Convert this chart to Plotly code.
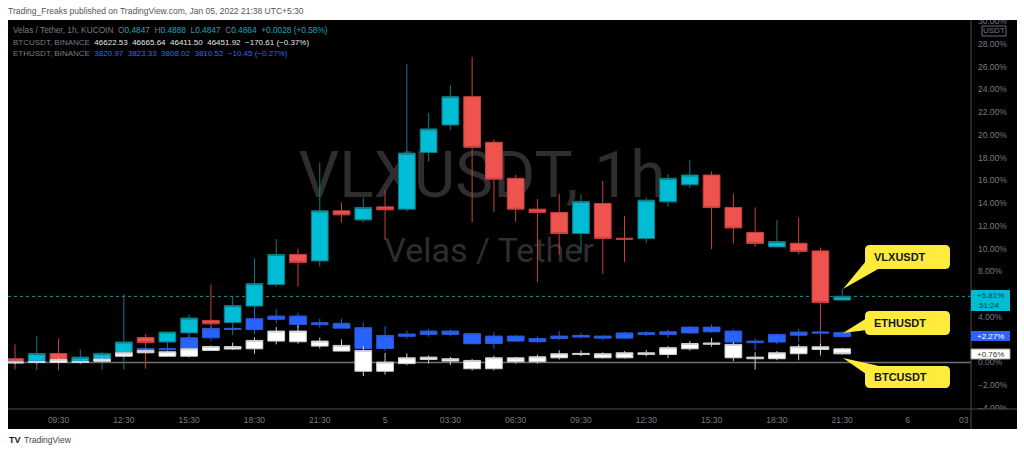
import plotly.graph_objects as go
import pandas as pd

# ---------------- data (percent change vs. first bar) ----------------
times = pd.date_range("2022-01-04 07:30", "2022-01-05 21:30", freq="h")

vlx_open = [0.33, 0.00, 0.79, 0.03, 0.12, 0.60, 2.20, 1.80, 2.60, 3.70, 3.50, 4.96, 6.85, 9.50, 8.93, 13.33, 12.54, 13.68, 13.48, 18.47,
            20.88, 23.37, 19.36, 16.19, 13.48, 13.19, 11.34, 13.98, 10.92, 10.90, 14.12, 15.62, 16.48, 13.63, 11.43, 10.16, 10.48, 9.81, 5.49]
vlx_high = [1.59, 2.30, 2.09, 1.15, 0.95, 6.00, 2.50, 2.70, 4.20, 6.85, 5.85, 9.16, 10.85, 10.00, 17.55, 14.07, 14.51, 15.15, 26.26, 21.94,
            24.40, 26.85, 19.60, 16.48, 14.36, 14.80, 14.80, 15.97, 12.89, 14.51, 16.56, 17.80, 16.80, 14.86, 13.63, 12.51, 12.75, 10.10, 6.49]
vlx_low = [-0.62, -0.68, -0.68, -0.15, -0.62, -0.62, -0.55, 1.00, 0.50, 2.35, 2.40, 4.10, 6.67, 6.67, 8.43, 12.31, 12.31, 10.78, 13.24, 17.65,
           20.47, 12.31, 13.24, 12.36, 7.07, 9.50, 9.66, 7.81, 8.84, 10.48, 13.68, 15.33, 9.96, 10.46, 10.16, 10.16, 9.52, 0.56, 5.49]
vlx_close = [0.00, 0.79, 0.03, 0.47, 0.80, 1.80, 1.75, 2.67, 3.90, 3.40, 5.00, 6.93, 9.50, 8.78, 13.33, 12.98, 13.63, 13.42, 18.41, 20.53,
             23.37, 18.92, 16.12, 13.48, 13.19, 11.34, 14.16, 10.90, 10.84, 14.27, 16.19, 16.48, 13.63, 11.83, 10.46, 10.63, 9.75, 5.26, 5.81]

eth_open = [0.00, 0.00, 0.00, 0.00, 0.15, 0.60, 1.06, 1.12, 1.20, 2.17, 2.90, 2.90, 3.79, 3.35, 3.32, 3.02, 1.23, 1.23, 2.30, 2.47,
            2.47, 1.65, 1.67, 1.88, 1.82, 2.10, 2.23, 2.14, 2.14, 2.47, 2.47, 2.60, 2.70, 1.79, 1.74, 1.79, 2.40, 2.58, 2.62]
eth_close = [0.10, 0.10, 0.25, 0.10, 0.30, 0.85, 1.23, 1.20, 2.17, 3.00, 3.00, 3.85, 4.08, 4.08, 3.50, 3.44, 3.06, 2.38, 2.50, 2.76,
             2.76, 2.53, 2.32, 2.32, 2.10, 2.32, 2.38, 2.32, 2.60, 2.62, 2.70, 3.11, 3.11, 2.76, 1.88, 2.47, 2.67, 2.67, 2.27]
eth_high = [0.30, 0.20, 0.40, 0.20, 0.40, 1.00, 1.40, 1.30, 2.40, 3.20, 3.10, 4.67, 4.73, 4.38, 3.85, 3.85, 3.50, 3.20, 2.80, 2.97,
            2.90, 2.60, 2.67, 2.40, 2.30, 2.76, 2.60, 2.40, 2.70, 2.75, 2.90, 3.20, 3.35, 2.90, 2.10, 2.55, 2.97, 2.90, 2.75]
eth_low = [-0.20, -0.10, -0.10, -0.10, 0.10, 0.50, 0.90, 1.00, 1.10, 1.90, 2.80, 2.47, 3.44, 3.06, 3.06, 3.02, 1.15, 1.00, 2.10, 2.26,
           2.30, 1.60, 1.20, 1.80, 1.70, 1.97, 2.10, 2.00, 2.05, 2.30, 2.17, 2.50, 2.60, 1.70, 1.08, 1.60, 1.79, 2.20, 2.20]

btc_open = [-0.05, 0.00, 0.00, 0.00, 0.10, 0.55, 0.85, 0.55, 0.55, 1.06, 1.18, 1.20, 1.88, 1.82, 1.44, 1.00, -0.77, -0.77, -0.10, 0.26,
            0.12, -0.55, -0.55, 0.06, 0.06, 0.41, 0.70, 0.41, 0.41, 0.70, 0.70, 1.20, 1.60, 0.41, 0.33, 0.33, 0.77, 1.15, 1.20]
btc_close = [0.05, 0.08, 0.26, 0.08, 0.30, 0.85, 1.06, 0.94, 1.20, 1.40, 1.40, 1.94, 2.76, 2.76, 1.88, 1.50, 1.06, 0.03, 0.41, 0.47,
             0.33, 0.18, 0.41, 0.41, 0.50, 0.77, 0.80, 0.77, 0.85, 0.85, 1.30, 1.67, 1.70, 1.59, 0.47, 0.85, 1.38, 1.38, 0.76]
btc_high = [0.15, 0.15, 0.40, 0.15, 0.40, 0.95, 1.15, 1.00, 1.30, 1.50, 1.75, 2.23, 3.11, 3.30, 2.20, 2.03, 1.44, 0.85, 0.80, 0.60,
            0.50, 0.30, 0.60, 0.50, 0.70, 1.08, 1.06, 0.90, 1.00, 1.10, 1.45, 1.90, 2.17, 1.79, 0.90, 1.00, 1.59, 1.65, 1.30]
btc_low = [-0.15, -0.10, -0.10, -0.10, 0.00, 0.45, 0.80, 0.50, 0.45, 1.00, 1.10, 0.77, 1.59, 1.65, 1.23, 1.00, -1.20, -1.06, -0.24, -0.10,
           -0.20, -0.70, -0.70, -0.10, -0.10, 0.26, 0.55, 0.35, 0.35, 0.55, 0.40, 1.05, 1.38, 0.12, -0.62, 0.20, 0.20, 0.70, 0.70]

x_tick_vals = ["2022-01-04 09:30", "2022-01-04 12:30", "2022-01-04 15:30", "2022-01-04 18:30", "2022-01-04 21:30",
               "2022-01-05 00:30", "2022-01-05 03:30", "2022-01-05 06:30", "2022-01-05 09:30", "2022-01-05 12:30",
               "2022-01-05 15:30", "2022-01-05 18:30", "2022-01-05 21:30", "2022-01-06 00:30"]
x_tick_text = ["09:30", "12:30", "15:30", "18:30", "21:30", "5", "03:30", "06:30", "09:30", "12:30",
               "15:30", "18:30", "21:30", "6"]
# 2.00% and 6.00% sit under the price labels in the reference, so they are not shown
y_tick_vals = [-4, -2, 0, 4, 8, 10, 12, 14, 16, 18, 20, 22, 24, 26, 28, 30]
y_tick_text = [("\u2212" if v < 0 else "") + f"{abs(v):.2f}%" for v in y_tick_vals]

# ---------------- geometry helpers (pixel -> paper) ----------------
W, H = 1024, 454
PL, PR, PT, PB = 8, 971, 20, 409


def fx(px):
    return (px - PL) / (PR - PL)


def fy(py):
    return (PB - py) / (PB - PT)


FONT = "Liberation Sans, Arial, sans-serif"
GRAY = "#787b86"

fig = go.Figure()

# watermark on the base (hidden) axes so candles draw above it
fig.add_trace(go.Scatter(
    x=[fx(482), fx(489)], y=[fy(181), fy(253)], mode="text",
    text=["VLXUSDT, 1h", "Velas / Tether"],
    textfont=dict(family="Roboto, Liberation Sans, sans-serif", size=[64, 34], color="#2e2e2e"),
    hoverinfo="skip", showlegend=False, cliponaxis=False))

# candles (overlaid subplot)
fig.add_trace(go.Candlestick(
    x=times, open=vlx_open, high=vlx_high, low=vlx_low, close=vlx_close,
    xaxis="x2", yaxis="y2", whiskerwidth=0, showlegend=False, hoverinfo="skip",
    increasing=dict(line=dict(color="#0f7b82", width=1), fillcolor="#00bcd4"),
    decreasing=dict(line=dict(color="#c9403e", width=1), fillcolor="#ef5350")))
fig.add_trace(go.Candlestick(
    x=times, open=eth_open, high=eth_high, low=eth_low, close=eth_close,
    xaxis="x2", yaxis="y2", whiskerwidth=0, showlegend=False, hoverinfo="skip",
    increasing=dict(line=dict(color="#2a5bd8", width=1), fillcolor="#2962ff"),
    decreasing=dict(line=dict(color="#2a5bd8", width=1), fillcolor="#2962ff")))
fig.add_trace(go.Candlestick(
    x=times, open=btc_open, high=btc_high, low=btc_low, close=btc_close,
    xaxis="x2", yaxis="y2", whiskerwidth=0, showlegend=False, hoverinfo="skip",
    increasing=dict(line=dict(color="#cfcfcf", width=1), fillcolor="#ffffff"),
    decreasing=dict(line=dict(color="#cfcfcf", width=1), fillcolor="#ffffff")))

shapes = []
# black chart background incl. axis strips
shapes.append(dict(type="rect", xref="paper", yref="paper", x0=0, x1=fx(1017), y0=fy(429), y1=1,
                   fillcolor="#000000", line=dict(width=0), layer="below"))
# zero line and last price line (data referenced)
shapes.append(dict(type="line", xref="paper", yref="y2", x0=0, x1=1, y0=0, y1=0,
                   line=dict(color="#707070", width=1.5), layer="below"))
shapes.append(dict(type="line", xref="paper", yref="y2", x0=0, x1=1, y0=vlx_close[-1], y1=vlx_close[-1],
                   line=dict(color="#1597a6", width=1, dash="dot"), layer="below"))
# clip partial tick labels at top/bottom of the price scale
shapes.append(dict(type="rect", xref="paper", yref="paper", x0=fx(971), x1=fx(1024), y0=1, y1=fy(0),
                   fillcolor="#ffffff", line=dict(width=0), layer="above"))
shapes.append(dict(type="rect", xref="paper", yref="paper", x0=fx(971), x1=fx(1017), y0=fy(429), y1=0,
                   fillcolor="#000000", line=dict(width=0), layer="above"))
# separators
shapes.append(dict(type="line", xref="paper", yref="paper", x0=fx(971), x1=fx(971), y0=fy(429), y1=1,
                   line=dict(color="#4f4f4f", width=1), layer="above"))
shapes.append(dict(type="line", xref="paper", yref="paper", x0=0, x1=fx(1017), y0=0, y1=0,
                   line=dict(color="#4f4f4f", width=1), layer="above"))
# USDT box
shapes.append(dict(type="rect", xref="paper", yref="paper", x0=fx(982), x1=fx(1006), y0=fy(36), y1=fy(26),
                   fillcolor="#000000", line=dict(color="#6a6d78", width=1), layer="above"))
# price labels
shapes.append(dict(type="rect", xref="paper", yref="paper", x0=fx(971), x1=fx(1010), y0=fy(311), y1=fy(290),
                   fillcolor="#00bcd4", line=dict(width=0), layer="above"))
shapes.append(dict(type="rect", xref="paper", yref="paper", x0=fx(971), x1=fx(1010), y0=fy(341), y1=fy(331),
                   fillcolor="#2962ff", line=dict(width=0), layer="above"))
shapes.append(dict(type="rect", xref="paper", yref="paper", x0=fx(971), x1=fx(1010), y0=fy(359), y1=fy(349),
                   fillcolor="#ffffff", line=dict(color="#9a9a9a", width=1), layer="above"))


def rrect(x0, y0, x1, y1, r):
    pts = [
        f"M {fx(x0 + r)},{fy(y0)}", f"L {fx(x1 - r)},{fy(y0)}", f"Q {fx(x1)},{fy(y0)} {fx(x1)},{fy(y0 + r)}",
        f"L {fx(x1)},{fy(y1 - r)}", f"Q {fx(x1)},{fy(y1)} {fx(x1 - r)},{fy(y1)}",
        f"L {fx(x0 + r)},{fy(y1)}", f"Q {fx(x0)},{fy(y1)} {fx(x0)},{fy(y1 - r)}",
        f"L {fx(x0)},{fy(y0 + r)}", f"Q {fx(x0)},{fy(y0)} {fx(x0 + r)},{fy(y0)}", "Z"]
    return " ".join(pts)


def tri(p):
    return f"M {fx(p[0][0])},{fy(p[0][1])} L {fx(p[1][0])},{fy(p[1][1])} L {fx(p[2][0])},{fy(p[2][1])} Z"


YEL = "#ffeb3b"
callouts = [
    ("VLXUSDT", (865, 245, 950, 269), [(866, 261), (878, 269), (843, 289)]),
    ("ETHUSDT", (865, 311, 950, 335), [(867, 318), (867, 330), (843, 333)]),
    ("BTCUSDT", (865, 366, 950, 388), [(843, 358), (879, 366), (866, 374)]),
]
annotations = []
for name, (x0, y0, x1, y1), tp in callouts:
    shapes.append(dict(type="path", xref="paper", yref="paper", path=rrect(x0, y0, x1, y1, 5),
                       fillcolor=YEL, line=dict(width=0), layer="above"))
    shapes.append(dict(type="path", xref="paper", yref="paper", path=tri(tp),
                       fillcolor=YEL, line=dict(width=0), layer="above"))
    annotations.append(dict(xref="paper", yref="paper", x=fx(872), y=fy((y0 + y1) / 2), xanchor="left",
                            yanchor="middle", showarrow=False, text=f"<b>{name}</b>",
                            font=dict(family=FONT, size=11, color="#131722")))


def ann(text, px, py, size=8.5, color=GRAY, xanchor="left"):
    annotations.append(dict(xref="paper", yref="paper", x=fx(px), y=fy(py), xanchor=xanchor, yanchor="middle",
                            showarrow=False, text=text, font=dict(family=FONT, size=size, color=color),
                            borderpad=0))


def sp(t, c):
    return f'<span style="color:{c}">{t}</span>'


TEAL = "#12a9ba"
BLUE = "#2f66ff"
WHT = "#e6e6e6"
S = "&nbsp;&nbsp;"
ann("Trading_Freaks published on TradingView.com, Jan 05, 2022 21:38 UTC+5:30", 7, 11, 8.5, "#555555")
ann(sp("Velas / Tether, 1h, KUCOIN", GRAY) + S + sp("O", GRAY) + sp("0.4847", TEAL) + S + sp("H", GRAY) + sp("0.4888", TEAL)
    + S + sp("L", GRAY) + sp("0.4847", TEAL) + S + sp("C", GRAY) + sp("0.4864", TEAL) + S + sp("+0.0028 (+0.58%)", TEAL), 12, 30.5, 8.3)
ann(sp("BTCUSDT, BINANCE", GRAY) + S + sp("46622.53" + S + "46665.64" + S + "46411.50" + S + "46451.92" + S + "\u2212170.61 (\u22120.37%)", WHT), 12, 42.5, 8)
ann(sp("ETHUSDT, BINANCE", GRAY) + S + sp("3820.97" + S + "3823.33" + S + "3808.02" + S + "3810.52" + S + "\u221210.45 (\u22120.27%)", BLUE), 12, 54, 8)
ann("USDT", 994, 31, 8, GRAY, "center")
ann("+5.81%", 991, 295.5, 8, "#123f46", "center")
ann("51:24", 978, 305.5, 8, "#123f46", "left")
ann("+2.27%", 991, 336, 8, "#ffffff", "center")
ann("+0.76%", 991, 354, 8, "#333333", "center")
ann("03", 970, 420, 8.5, GRAY, "right")
ann("<b>TV</b>", 8, 440, 9, "#131722")
ann("TradingView", 23, 440, 8.5, "#444444")

fig.update_layout(
    width=W, height=H,
    margin=dict(l=PL, r=W - PR, t=PT, b=H - PB, pad=0),
    paper_bgcolor="#ffffff", plot_bgcolor="#000000",
    showlegend=False, boxgap=0.2, boxgroupgap=0.04,
    xaxis=dict(range=[0, 1], visible=False, fixedrange=True),
    yaxis=dict(range=[0, 1], visible=False, fixedrange=True),
    xaxis2=dict(overlaying="x", anchor="y2", side="bottom", type="date",
                range=["2022-01-04 07:10:43", "2022-01-06 03:25"],
                tickvals=x_tick_vals, ticktext=x_tick_text, showgrid=False, zeroline=False, showline=False,
                ticks="", ticklabelstandoff=4, tickfont=dict(family=FONT, size=8.5, color=GRAY),
                rangeslider=dict(visible=False)),
    yaxis2=dict(overlaying="y", anchor="x2", side="right", range=[-4.09, 30.11],
                tickvals=y_tick_vals, ticktext=y_tick_text, showgrid=False, zeroline=False, showline=False,
                ticks="", ticklabelstandoff=6, tickfont=dict(family=FONT, size=8.5, color=GRAY)),
    shapes=shapes, annotations=annotations,
)

fig.write_html("out.html", config={"displayModeBar": False},
               post_script="document.body.style.margin='0';document.body.style.overflow='hidden';")
